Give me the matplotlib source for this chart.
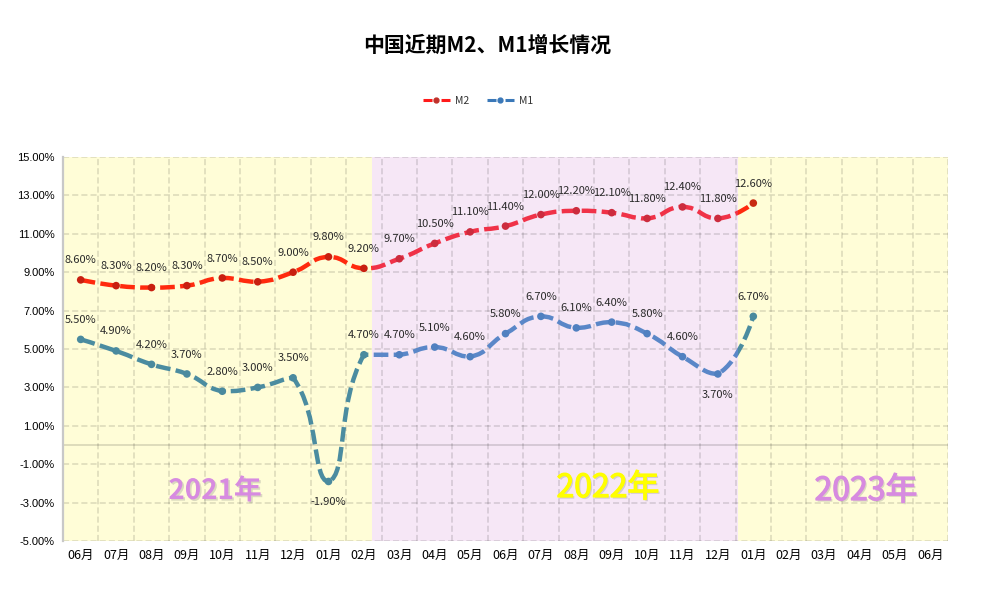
import numpy as np
import matplotlib
matplotlib.use('Agg')
import matplotlib.pyplot as plt
import matplotlib.patheffects as pe
from matplotlib.path import Path
from matplotlib.patches import PathPatch, Rectangle
from matplotlib.lines import Line2D

plt.rcParams['font.family'] = ['Noto Sans CJK SC', 'DejaVu Sans']

# Data.
months = ['06月', '07月', '08月', '09月', '10月', '11月', '12月', '01月', '02月',
          '03月', '04月', '05月', '06月', '07月', '08月', '09月', '10月', '11月', '12月',
          '01月', '02月', '03月', '04月', '05月', '06月']
m2 = [8.6, 8.3, 8.2, 8.3, 8.7, 8.5, 9.0, 9.8, 9.2,
      9.7, 10.5, 11.1, 11.4, 12.0, 12.2, 12.1, 11.8, 12.4, 11.8,
      12.6]
m1 = [5.5, 4.9, 4.2, 3.7, 2.8, 3.0, 3.5, -1.9, 4.7,
      4.7, 5.1, 4.6, 5.8, 6.7, 6.1, 6.4, 5.8, 4.6, 3.7,
      6.7]
m1_below = [7, 18]
years = ['2021年', '2022年', '2023年']
yticks = np.arange(-5, 16, 2)

W, H = 984, 595
fig = plt.figure(figsize=(W / 100, H / 100), dpi=100)
ax = fig.add_axes([63 / W, 1 - 541 / H, (948 - 63) / W, (541 - 157) / H])
n = len(months)
ax.set_xlim(-0.5, n - 0.5)
ax.set_ylim(-5, 15)

# Background bands (year blocks).
split = [8.23, 18.56]
ax.set_facecolor('#fffdd7')
ax.axvspan(split[0], split[1], color='#f6e7f6', lw=0, zorder=0)

grid_c = (0, 0, 0, 0.14)
for x in np.arange(-0.5, n, 1):
    ax.axvline(x, color=grid_c, lw=1.1, ls=(0, (4, 2)), zorder=1)
for y in yticks:
    ax.axhline(y, color=grid_c, lw=1.1, ls=(0, (4, 2)), zorder=1)
ax.axhline(0, color=grid_c, lw=1.3, zorder=1)

for s in ['top', 'right', 'bottom']:
    ax.spines[s].set_visible(False)
ax.spines['left'].set_color('#c8c8c8')
ax.spines['left'].set_linewidth(1.6)

ax.set_xticks(range(n))
ax.set_xticklabels(months, fontsize=9)
ax.set_yticks(yticks)
ax.set_yticklabels([f'{v:.2f}%' for v in yticks], fontsize=8, family='Liberation Sans')
ax.tick_params(axis='x', length=0, pad=6)
ax.tick_params(axis='y', length=0, pad=6)

bb = ax.get_window_extent()
sx = bb.width / n
sy = bb.height / 20.0


def smooth_path(ys, k=0.5):
    # bezier smoothing in pixel space, control points kept inside each segment box
    p = np.column_stack([np.arange(len(ys)) * sx, np.asarray(ys) * sy])
    cin = p.copy()
    cout = p.copy()
    for i in range(1, len(p) - 1):
        v = (p[i + 1] - p[i - 1]) * k
        d0 = np.hypot(*(p[i] - p[i - 1]))
        d1 = np.hypot(*(p[i + 1] - p[i]))
        r = d1 / (d0 + d1)
        a = p[i] - v * (1 - r)
        b = p[i] + v * r
        cin[i] = np.clip(a, np.minimum(p[i - 1], p[i]), np.maximum(p[i - 1], p[i]))
        cout[i] = np.clip(b, np.minimum(p[i + 1], p[i]), np.maximum(p[i + 1], p[i]))
    verts = [p[0]]
    codes = [Path.MOVETO]
    for i in range(len(p) - 1):
        verts += [cout[i], cin[i + 1], p[i + 1]]
        codes += [Path.CURVE4] * 3
    return Path(np.array(verts) / [sx, sy], codes)


regions = [(-0.5, split[0]), (split[0], split[1]), (split[1], n - 0.5)]


def region_of(x):
    if x < split[0]:
        return 0
    if x < split[1]:
        return 1
    return 2


series = [
    (m2, ['#ff2a0e', '#f03248', '#ff2a0e'], ['#c81f10', '#cc2c3e', '#c82a12'], []),
    (m1, ['#4b8ca0', '#5a87c8', '#4b8ca0'], ['#4a8a9e', '#5080c0', '#4a8a9e'], m1_below),
]

for ys, lcols, mcols, below in series:
    path = smooth_path(ys)
    for (x0, x1), col in zip(regions, lcols):
        patch = PathPatch(path, fill=False, edgecolor=col, lw=3.2,
                          linestyle=(0, (3.3, 1.2)), capstyle='butt', zorder=3)
        ax.add_patch(patch)
        patch.set_clip_path(Rectangle((x0, -100), x1 - x0, 200, transform=ax.transData))
    xs = np.arange(len(ys))
    ax.scatter(xs, ys, s=30, c=[mcols[region_of(x)] for x in xs], zorder=4, lw=0)
    for i, v in enumerate(ys):
        off = -15 if i in below else 14
        ax.annotate(f'{v:.2f}%', (i, v), xytext=(0, off), textcoords='offset points',
                    ha='center', va='center', fontsize=8, color='#2a2a2a', zorder=5)

# Year captions.
year_pos = [(215, 491, '#d78be0', 'bold', 20, 0), (608, 488, '#ffff00', 'normal', 23, 0.9),
            (866, 491, '#d78be0', 'normal', 23, 0.9)]
for label, (px, py, col, wt, fs, sw) in zip(years, year_pos):
    effects = [pe.SimplePatchShadow(offset=(1.2, -1.2), shadow_rgbFace='#888888', alpha=0.3)]
    if sw:
        effects.append(pe.withStroke(linewidth=sw, foreground=col))
    else:
        effects.append(pe.Normal())
    fig.text(px / W, 1 - py / H, label, color=col, fontsize=fs, fontweight=wt,
             ha='center', va='center', path_effects=effects, zorder=6)

fig.text(487 / W, 1 - 45 / H, '中国近期M2、M1增长情况', fontsize=15, fontweight='bold',
         ha='center', va='center', color='black')

handles = [
    Line2D([], [], color='#ff1a1a', lw=2.2, dashes=(2.95, 2.95), marker='o', markersize=3.5,
           markerfacecolor='#c0302a', markeredgecolor='#c0302a'),
    Line2D([], [], color='#3a78b8', lw=2.2, dashes=(2.95, 2.95), marker='o', markersize=3.5,
           markerfacecolor='#3a78b8', markeredgecolor='#3a78b8'),
]
fig.legend(handles, ['M2', 'M1'], loc='center', bbox_to_anchor=(478 / W, 1 - 101 / H), ncol=2,
           frameon=False, fontsize=7.5, handlelength=2.6, handletextpad=0.5,
           columnspacing=1.7, numpoints=1, labelcolor='#333333')

fig.savefig('out.png', dpi=100)
